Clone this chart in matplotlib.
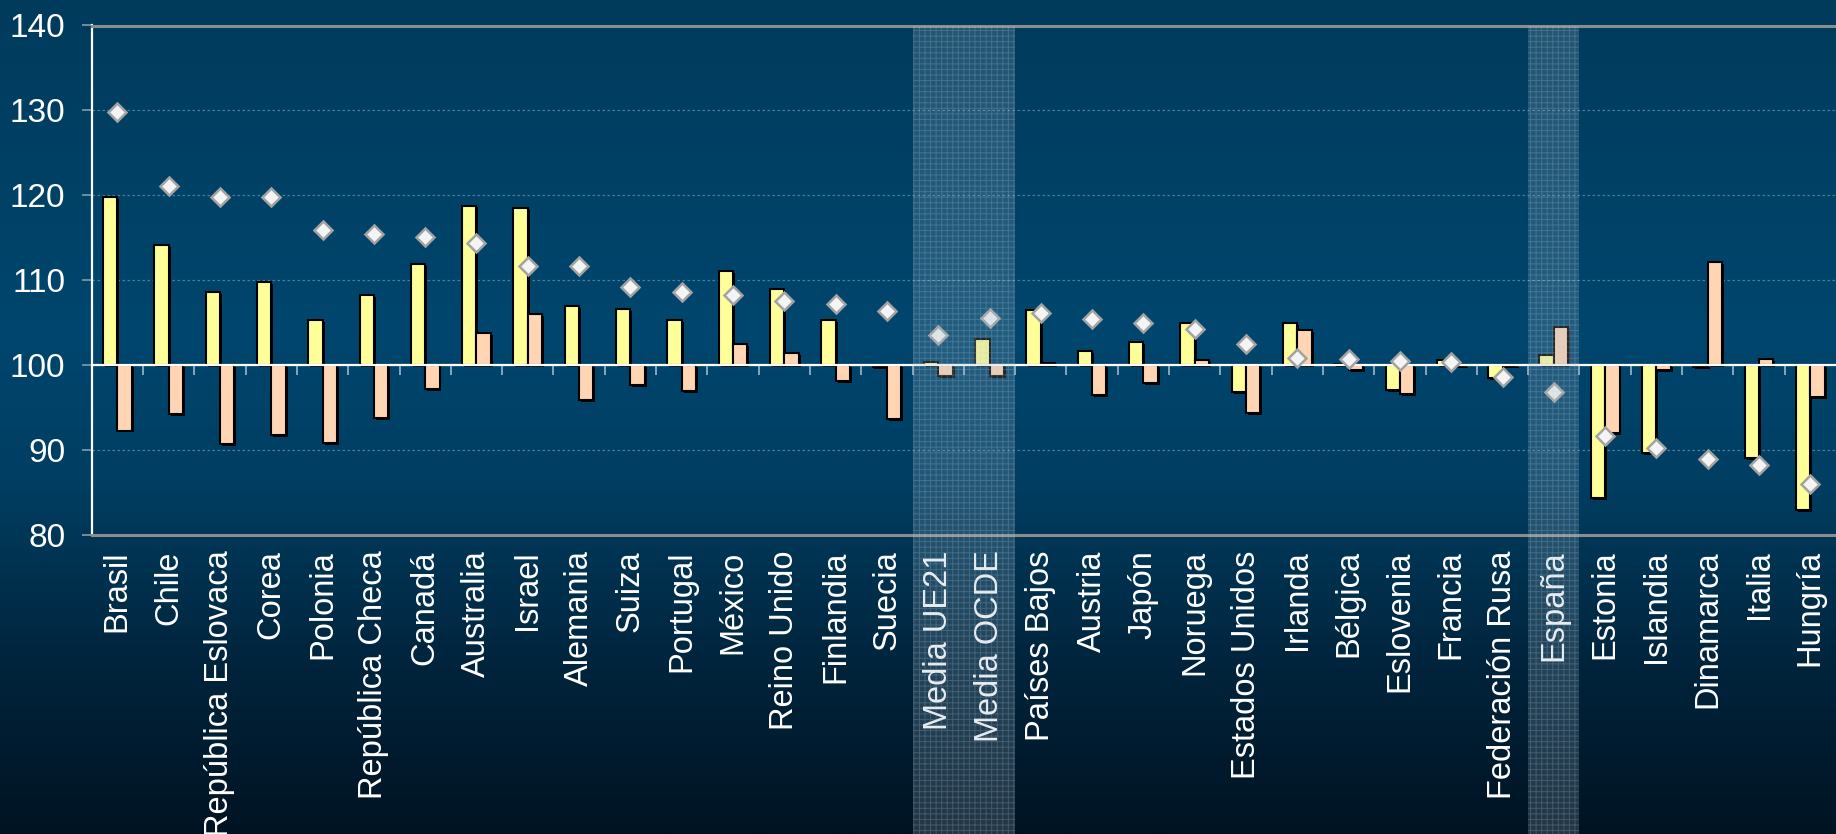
import numpy as np
import matplotlib
matplotlib.use("Agg")
import matplotlib.pyplot as plt
from matplotlib.colors import LinearSegmentedColormap
from matplotlib.patches import Rectangle
from matplotlib.transforms import blended_transform_factory
import matplotlib.patheffects as pe

# ---------------- data ----------------
paises = ["Brasil", "Chile", "República Eslovaca", "Corea", "Polonia",
          "República Checa", "Canadá", "Australia", "Israel", "Alemania",
          "Suiza", "Portugal", "México", "Reino Unido", "Finlandia", "Suecia",
          "Media UE21", "Media OCDE", "Países Bajos", "Austria", "Japón",
          "Noruega", "Estados Unidos", "Irlanda", "Bélgica", "Eslovenia",
          "Francia", "Federación Rusa", "España", "Estonia", "Islandia",
          "Dinamarca", "Italia", "Hungría"]

serie_amarilla = [119.8, 114.1, 108.6, 109.8, 105.3, 108.3, 111.9, 118.8, 118.5, 107.0,
                  106.6, 105.3, 111.1, 109.0, 105.3, 99.8, 100.4, 103.1, 106.5, 101.7,
                  102.7, 105.0, 96.8, 105.0, 100.1, 97.1, 100.6, 98.5, 101.2, 84.3,
                  89.6, 99.8, 89.1, 82.9]

serie_rosa = [92.3, 94.2, 90.7, 91.8, 90.8, 93.8, 97.2, 103.8, 106.0, 95.9,
              97.7, 96.9, 102.5, 101.4, 98.1, 93.7, 98.7, 98.7, 100.25, 96.5,
              97.9, 100.6, 94.4, 104.1, 99.4, 96.6, 99.9, 99.9, 104.5, 92.0,
              99.4, 112.2, 100.7, 96.3]

serie_rombos = [129.8, 121.1, 119.8, 119.8, 115.9, 115.5, 115.1, 114.4, 111.7, 111.7,
                109.2, 108.6, 108.3, 107.5, 107.2, 106.4, 103.6, 105.5, 106.2, 105.4,
                105.0, 104.3, 102.5, 100.8, 100.7, 100.5, 100.4, 98.6, 96.8, 91.7,
                90.2, 88.9, 88.3, 86.0]

destacados = ["Media UE21", "Media OCDE", "España"]
y_ticks = [80, 90, 100, 110, 120, 130, 140]
base = 100

# ---------------- figure ----------------
plt.rcParams["font.family"] = ["Liberation Sans", "DejaVu Sans"]
plt.rcParams["hatch.linewidth"] = 0.7

W, H, DPI = 1836, 834, 100
fig = plt.figure(figsize=(W / DPI, H / DPI), dpi=DPI)

# gradient background
bg = fig.add_axes([0, 0, 1, 1], zorder=-5)
cmap = LinearSegmentedColormap.from_list(
    "bg", [(0.0, "#003b5c"), (0.40, "#00466e"), (0.58, "#003e62"),
           (0.78, "#00263f"), (1.0, "#001322")])
grad = np.linspace(0, 1, 512).reshape(-1, 1)
bg.imshow(grad, aspect="auto", cmap=cmap, extent=[0, 1, 0, 1], origin="upper")
bg.set_axis_off()

ax = fig.add_axes([91.7 / W, 1 - 535 / H, 1 - 91.7 / W, (535 - 25.5) / H])
ax.set_facecolor("none")

n = len(paises)
x = np.arange(n)
w = 0.28

shadow = [pe.SimplePatchShadow(offset=(1.4, -1.4), shadow_rgbFace="black", alpha=1.0),
          pe.Normal()]

b1 = ax.bar(x - w / 2, np.array(serie_amarilla) - base, width=w, bottom=base,
            color="#ffff99", edgecolor="black", linewidth=1.5, zorder=3)
b2 = ax.bar(x + w / 2, np.array(serie_rosa) - base, width=w, bottom=base,
            color="#ffd5b4", edgecolor="black", linewidth=1.5, zorder=3)
for p in list(b1) + list(b2):
    p.set_path_effects(shadow)

ax.plot(x, serie_rombos, linestyle="none", marker="D", markersize=9.5,
        markerfacecolor="#f4f4f4", markeredgecolor="#a3a3a3",
        markeredgewidth=1.8, zorder=4)

ax.set_xlim(-0.5, n - 0.5)
ax.set_ylim(y_ticks[0], y_ticks[-1])

# baseline and category boundary ticks
ax.axhline(base, color="white", linewidth=1.6, zorder=3.5)
tick_len = (y_ticks[-1] - y_ticks[0]) * 10 / 510
ax.vlines(x[:-1] + 0.5, base - tick_len, base, color="#a9c1d3",
          linewidth=1.1, zorder=3.4)

# grid and axes styling
ax.set_yticks(y_ticks)
ax.grid(axis="y", color="#4f7c99", linestyle=(0, (2, 2)), linewidth=0.9, zorder=1)
ax.set_axisbelow(True)
for s in ["top", "bottom"]:
    ax.spines[s].set_color("#8c8c8c")
    ax.spines[s].set_linewidth(2.2)
ax.spines["right"].set_visible(False)
ax.spines["left"].set_color("white")
ax.spines["left"].set_linewidth(1.6)

ax.tick_params(axis="y", colors="#7694aa", length=7, width=1.3, pad=12,
               labelcolor="white", labelsize=24)
ax.set_xticks(x)
ax.set_xticklabels(paises, rotation=90, fontsize=23.5, color="white")
ax.tick_params(axis="x", length=0, pad=11)

# stippled highlight columns
trans = blended_transform_factory(ax.transData, fig.transFigure)
top = ax.get_position().y1
for nombre in destacados:
    i = paises.index(nombre)
    ax.add_patch(Rectangle((i - 0.5, 0), 1, top, transform=trans,
                           facecolor="#9fb3c3", alpha=0.22, edgecolor="none",
                           clip_on=False, zorder=10))
    ax.add_patch(Rectangle((i - 0.5, 0), 1, top, transform=trans,
                           facecolor="none", edgecolor=(0.75, 0.82, 0.88, 0.22),
                           hatch="+++", linewidth=0, clip_on=False, zorder=10))

fig.savefig("out.png", dpi=DPI)
